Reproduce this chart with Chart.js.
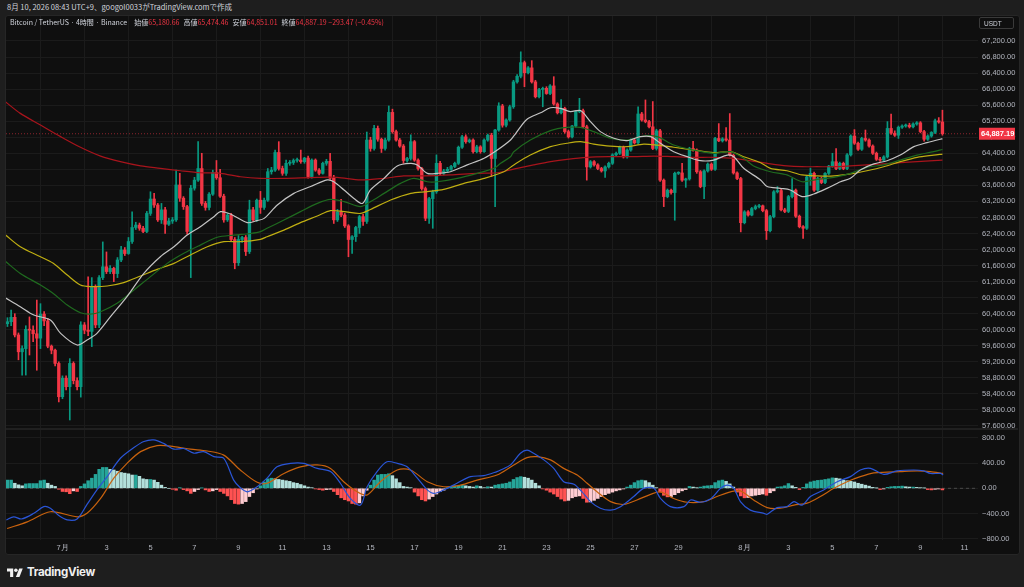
<!DOCTYPE html>
<html lang="ja">
<head>
<meta charset="utf-8">
<title>BTCUSDT 4h - Binance</title>
<script src="https://cdn.jsdelivr.net/npm/chart.js@4.4.1/dist/chart.umd.min.js"></script>
<style>
  html, body { margin: 0; padding: 0; width: 1024px; height: 587px; overflow: hidden; background: #1e1e1e;
    font-family: "Noto Sans CJK JP", "Noto Sans", sans-serif; }
  #header { position: absolute; left: 7px; top: 1px; font-size: 7.5px; color: #d1d4dc; white-space: nowrap; }
  #panel { position: absolute; left: 5px; top: 15px; width: 1013px; height: 538px; background: #0f0f0f;
    border: 1px solid #262626; border-radius: 3px; }
  #legend { position: absolute; left: 10px; top: 17px; font-size: 7px; color: #d1d4dc; white-space: nowrap; }
  #legend .k { color: #d1d4dc; margin-left: 4px; }
  #legend .v { color: #f23645; }
  #usdt { position: absolute; left: 979px; top: 17px; width: 35px; height: 12px; border: 1px solid #3a3a3a;
    border-radius: 2px; color: #d1d4dc; font: 6.5px "Liberation Sans", sans-serif; line-height: 12px; padding-left: 4px; box-sizing: border-box; }
  #sep { position: absolute; left: 6px; top: 428px; width: 1012px; height: 2px; background: #202020; }
  canvas { position: absolute; }
  #price { left: 6px; top: 16px; }
  #macd { left: 6px; top: 430px; }
  #logo { position: absolute; left: 7px; top: 565px; display: flex; align-items: center; color: #f0f0f0;
    font: bold 11.5px "Inter", "Liberation Sans", sans-serif; letter-spacing: -0.3px; }
  #logo svg { margin-right: 4px; }
</style>
</head>
<body>
<div id="header">8月 10, 2026 08:43 UTC+9、googol0033がTradingView.comで作成</div>
<div id="panel"></div>
<canvas id="price" width="1012" height="412"></canvas>
<canvas id="macd" width="1012" height="123"></canvas>
<div id="sep"></div>
<div id="legend">Bitcoin / TetherUS · 4時間 · Binance &nbsp;<span class="k">始値</span><span class="v">65,180.66</span><span class="k">高値</span><span class="v">65,474.46</span><span class="k">安値</span><span class="v">64,851.01</span><span class="k">終値</span><span class="v">64,887.19</span><span class="v">&nbsp;−293.47 (−0.45%)</span></div>
<div id="usdt">USDT</div>
<div id="logo"><svg width="16" height="11" viewBox="0 0 36 24"><path d="M14 22H7V10H0V3h14v19z" fill="#f0f0f0"/><circle cx="20" cy="7" r="4" fill="#f0f0f0"/><path d="M28 22h-8l7.5-19h8z" fill="#f0f0f0"/></svg>TradingView</div>
<script>
// 4h candles, index 0 = Jul 1 first candle; first row starts at index -15
const START = -15;

const opens = [
  60150, 60200, 60310, 59870, 59450, 59530, 60010, 59990, 59900, 59790, 60390, 60220, 59590, 59490, 59160,
  58330, 58790, 58580, 59160, 58730, 58580, 60120, 59990, 59960, 61070, 60120, 61300,
  61570, 61450, 61530, 61400, 61740, 61990, 61900, 62200, 62550, 62610, 62530, 62450,
  62900, 63260, 63110, 62740, 62990, 62630, 62710, 62740, 63610, 63280, 63070, 62450,
  63530, 63730, 64020, 63150, 63050, 63380, 63920, 63790, 63330, 62740, 62860, 62250,
  61670, 62250, 62300, 61950, 62990, 62740, 63230, 63050, 63230, 63940, 63980, 64420,
  64020, 63900, 64150, 64170, 64220, 64230, 64190, 64280, 63820, 64230, 63980, 63900,
  64150, 64200, 63780, 62740, 62940, 62860, 62590, 62250, 62320, 62550, 62820, 62700,
  64730, 64520, 65020, 64750, 64520, 64730, 65420, 64940, 64730, 64580, 64220, 64270,
  64690, 64230, 64020, 63520, 62780, 63270, 63440, 64150, 63900, 63960, 64000, 64070,
  64150, 64550, 64810, 64690, 64730, 64440, 64560, 64440, 64730, 64850, 64270, 64980,
  65580, 65100, 65230, 65560, 66180, 66320, 66660, 66410, 66530, 66180, 65810, 65990,
  66020, 65890, 66080, 65630, 65410, 65520, 64940, 64810, 65080, 65440, 65460, 65060,
  64060, 64190, 64110, 64020, 63960, 64060, 64150, 64360, 64400, 64550, 64310, 64480,
  64730, 64660, 65380, 65230, 65190, 65060, 64520, 64960, 63730, 63320, 63480, 63420,
  63900, 63910, 63730, 63760, 64520, 64480, 63940, 63570, 63960, 64130, 64000, 64770,
  64710, 64760, 64730, 64350, 63910, 63770, 62670, 62940, 62860, 63020, 63070, 63090,
  62970, 62470, 62820, 63440, 63470, 62990, 62950, 63320, 63480, 62830, 62570, 62530,
  63810, 63900, 63480, 63770, 63670, 63900, 64080, 64190, 64020, 64150, 64020, 64360,
  64830, 64650, 64500, 64770, 64730, 64580, 64400, 64250, 64230, 64310, 65020, 64900,
  64850, 65050, 65080, 65100, 65060, 65130, 65160, 64940, 64750, 64830, 64920, 65210,
  65180.66
];
const highs = [
  60300, 60490, 60400, 59920, 59600, 60100, 60320, 60100, 60740, 60650, 60450, 60280, 59620, 59520, 59200,
  58850, 58850, 59280, 59200, 58800, 60200, 60180, 61320, 61300, 61120, 61350, 62190,
  61940, 61600, 61560, 61800, 62080, 62050, 62300, 62940, 62680, 62660, 62580, 62950,
  63440, 63400, 63150, 63150, 63050, 62780, 62800, 63980, 63900, 63320, 63100, 63600,
  63800, 64690, 64400, 63200, 63420, 63980, 64220, 64000, 63380, 62900, 62900, 62300,
  62350, 62330, 62350, 63230, 63050, 63260, 63450, 63280, 64020, 64050, 64480, 64690,
  64080, 64230, 64220, 64260, 64280, 64480, 64300, 64330, 64260, 64260, 64020, 64180,
  64250, 64400, 63850, 63000, 63250, 62900, 62620, 62350, 62580, 62850, 62880, 64930,
  64800, 65100, 65080, 64780, 64780, 65580, 65500, 64980, 64770, 64620, 64300, 64860,
  64720, 64260, 64050, 63560, 63300, 63480, 64360, 64200, 64000, 64050, 64100, 64180,
  64580, 64850, 64860, 64760, 64760, 64600, 64590, 64760, 64880, 64900, 65000, 65660,
  65620, 65260, 65600, 66220, 66360, 66930, 66700, 66560, 66710, 66220, 66020, 66050,
  66060, 66110, 66310, 65660, 65740, 65550, 64980, 65100, 65460, 65770, 65500, 65100,
  64220, 64220, 64140, 64050, 64090, 64180, 64390, 64430, 64580, 64580, 64510, 64760,
  64760, 65560, 65420, 65730, 65220, 65690, 65000, 65000, 63760, 63510, 63510, 63930,
  63940, 64150, 63780, 64550, 64700, 64510, 63970, 63990, 64160, 64160, 64800, 65140,
  64790, 65040, 65390, 64380, 63940, 63800, 62970, 62970, 63050, 63110, 63130, 63110,
  63000, 62850, 63470, 63570, 63500, 63030, 63350, 63770, 63510, 62860, 62600, 63840,
  64030, 63930, 63800, 63800, 63920, 64100, 64400, 64520, 64180, 64180, 64390, 64860,
  64990, 64680, 64800, 64980, 64760, 64610, 64430, 64300, 64340, 65190, 65380, 64960,
  65080, 65110, 65130, 65150, 65160, 65190, 65190, 64970, 64860, 64940, 65250, 65290,
  65474.46
];
const lows = [
  60080, 60100, 59820, 59250, 58870, 58870, 59370, 59700, 58990, 59530, 60100, 59550, 59400, 59100, 58200,
  58280, 58500, 57750, 58650, 58500, 58320, 59900, 59850, 59580, 60050, 60050, 61250,
  61400, 61400, 61200, 61300, 61700, 61850, 61880, 62150, 62500, 62480, 62420, 62420,
  62850, 63050, 62700, 62650, 62400, 62600, 62650, 62700, 63200, 63000, 62380, 61300,
  63480, 63700, 63100, 62980, 62990, 63350, 63750, 63300, 62680, 62700, 62200, 61520,
  61600, 62180, 61850, 61900, 62700, 62700, 62900, 63000, 63200, 63880, 63950, 63980,
  63850, 63850, 64100, 64120, 64180, 64150, 64150, 63780, 63780, 63950, 63860, 63880,
  64100, 63750, 62650, 62700, 62820, 62550, 61820, 61900, 62200, 62400, 62600, 62650,
  64450, 64480, 64700, 64420, 64480, 64700, 64900, 64700, 64550, 64150, 64180, 64230,
  64200, 63980, 63480, 62720, 62650, 62530, 63400, 63860, 63860, 63930, 63970, 64040,
  64120, 64520, 64650, 64660, 64400, 64410, 64400, 64420, 64700, 63820, 63070, 64950,
  65050, 65060, 65200, 65520, 66150, 66280, 66060, 66380, 66150, 65780, 65780, 65560,
  65870, 65860, 65600, 65380, 65380, 64900, 64780, 64780, 65050, 65410, 65040, 63730,
  64030, 64080, 63990, 63930, 63800, 64030, 64120, 64330, 64370, 64280, 64280, 64450,
  64630, 64630, 65200, 65160, 65030, 64490, 64480, 63700, 63070, 63290, 63380, 62730,
  63870, 63700, 63550, 63730, 64450, 63900, 63540, 63270, 63930, 63970, 63970, 64690,
  64680, 64700, 64330, 63880, 63740, 62440, 62640, 62830, 62840, 62990, 63040, 62940,
  62250, 62440, 62790, 63410, 62960, 62920, 62920, 63290, 62800, 62540, 62280, 62500,
  63600, 63450, 63450, 63640, 63640, 63870, 64050, 63990, 63990, 63990, 63990, 64330,
  64620, 64470, 64470, 64700, 64550, 64370, 64220, 64200, 64200, 64280, 64870, 64820,
  64770, 65020, 65050, 65030, 65030, 65100, 64910, 64700, 64720, 64800, 64890, 65150,
  64851.01
];
const closes = [
  60200, 60310, 59870, 59450, 59530, 60010, 59990, 59900, 59790, 60390, 60220, 59590, 59490, 59160, 58330,
  58790, 58580, 59160, 58730, 58580, 60120, 59990, 59960, 61070, 60120, 61300, 61570,
  61450, 61530, 61400, 61740, 61990, 61900, 62200, 62550, 62610, 62530, 62450, 62900,
  63260, 63110, 62740, 62990, 62630, 62710, 62740, 63610, 63280, 63070, 62450, 63530,
  63730, 64020, 63150, 63050, 63380, 63920, 63790, 63330, 62740, 62860, 62250, 61670,
  62250, 62300, 61950, 62990, 62740, 63230, 63050, 63230, 63940, 63980, 64420, 64020,
  63900, 64150, 64170, 64220, 64230, 64190, 64280, 63820, 64230, 63980, 63900, 64150,
  64200, 63780, 62740, 62940, 62860, 62590, 62250, 62320, 62550, 62820, 62700, 64730,
  64520, 65020, 64750, 64520, 64730, 65420, 64940, 64730, 64580, 64220, 64270, 64690,
  64230, 64020, 63520, 62780, 63270, 63440, 64150, 63900, 63960, 64000, 64070, 64150,
  64550, 64810, 64690, 64730, 64440, 64560, 64440, 64730, 64850, 64270, 64980, 65580,
  65100, 65230, 65560, 66180, 66320, 66660, 66410, 66530, 66180, 65810, 65990, 66020,
  65890, 66080, 65630, 65410, 65520, 64940, 64810, 65080, 65440, 65460, 65060, 64060,
  64190, 64110, 64020, 63960, 64060, 64150, 64360, 64400, 64550, 64310, 64480, 64730,
  64660, 65380, 65230, 65190, 65060, 64520, 64960, 63730, 63320, 63480, 63420, 63900,
  63910, 63730, 63760, 64520, 64480, 63940, 63570, 63960, 64130, 64000, 64770, 64710,
  64760, 64730, 64350, 63910, 63770, 62670, 62940, 62860, 63020, 63070, 63090, 62970,
  62470, 62820, 63440, 63470, 62990, 62950, 63320, 63480, 62830, 62570, 62530, 63810,
  63900, 63480, 63770, 63670, 63900, 64080, 64190, 64020, 64150, 64020, 64360, 64830,
  64650, 64500, 64770, 64730, 64580, 64400, 64250, 64230, 64310, 65020, 64900, 64850,
  65050, 65080, 65100, 65060, 65130, 65160, 64940, 64750, 64830, 64920, 65210, 65180,
  64887.19
];

// moving averages: [candle index, price]
const maWhite = [[-15.5,60790],[-11.5,60575],[-7.8,60367],[-3.3,60242],[-0.5,59910],[4,59620],[6.7,59745],[9.4,59910],[13.1,60325],[17.6,60825],[22.2,61405],[26.7,61820],[30.4,62070],[34,62360],[37.6,62570],[41.3,62820],[43.1,62945],[45.8,62885],[50.4,62670],[53,62720],[55,62777],[58.6,63110],[63.1,63400],[67.7,63570],[72.2,63735],[74,63690],[76.8,63485],[79.5,63275],[81.8,63150],[84,63485],[87.7,63775],[91.3,64085],[94.9,64150],[96.8,64110],[99.5,63900],[102.2,63900],[105.8,63940],[110.4,64110],[115,64275],[118.6,64480],[122.2,64730],[123.5,64880],[126.7,65250],[130.4,65410],[133.1,65535],[135.8,65520],[138.5,65440],[141.3,65465],[144,65190],[146.7,64940],[150.4,64775],[154,64715],[157.6,64815],[160.4,64815],[163.1,64650],[166.7,64440],[170.4,64315],[174,64215],[177.6,64230],[181.3,64355],[183.1,64315],[185.8,64025],[190.4,63735],[192.2,63570],[195.8,63525],[198.5,63485],[201.7,63320],[204.9,63385],[208.5,63525],[212.2,63690],[214.9,63775],[217.6,63985],[221.3,64135],[224.9,64215],[228.5,64355],[232.2,64565],[235.8,64665],[239.4,64750],[240,64760]];
const maGreen = [[-15.5,61700],[-11.5,61405],[-6,61115],[-2.5,60905],[1.3,60615],[4.9,60425],[7.6,60390],[10.4,60450],[14.9,60660],[19.5,60990],[24,61325],[28.6,61655],[33.1,61905],[37.6,62110],[42.2,62305],[46.7,62360],[51.3,62400],[54,62445],[55.8,62530],[60.4,62735],[64.9,62945],[69.5,63150],[73.1,63250],[76.8,63195],[81.3,63070],[84,63195],[87.7,63400],[92.2,63650],[95.8,63775],[99.5,63690],[102.2,63690],[107.7,63775],[113.1,63900],[117.7,64025],[119.5,64150],[122.2,64315],[123.1,64440],[127.6,64730],[133.1,64965],[137.6,65045],[141.3,65045],[144.9,64940],[149.4,64775],[154,64730],[158.5,64830],[162.2,64815],[166.7,64605],[172.2,64480],[177.6,64400],[182.2,64440],[185.8,64275],[188.5,64085],[193.1,63940],[197.6,63860],[201.7,63690],[205.8,63750],[210.4,63800],[214.9,63900],[219.4,64050],[224,64110],[228.5,64230],[233.1,64355],[237.6,64440],[240,64495]];
const maYellow = [[-15.5,62360],[-11.5,62070],[-6,61820],[-2.5,61655],[1.3,61365],[4.9,61115],[7.6,61075],[12.2,61090],[16.7,61175],[21.3,61340],[25.8,61505],[30.4,61655],[34.9,61865],[39.5,62070],[44,62195],[48.5,62195],[54,62255],[55.8,62320],[60.4,62485],[64.9,62670],[69.5,62835],[73.1,62970],[76.8,62945],[81.3,62900],[84,63000],[89.5,63235],[95,63400],[99.5,63445],[104,63500],[109.5,63650],[115,63775],[120.4,63940],[123.1,64110],[127.6,64355],[133.1,64565],[137.6,64650],[141.3,64690],[144.9,64630],[149.4,64580],[154,64565],[158.5,64630],[162.2,64605],[166.7,64550],[172.2,64480],[177.6,64415],[182.2,64440],[185.8,64315],[190.4,64165],[193.1,64025],[197.6,63965],[201.7,63860],[205.8,63835],[210.4,63835],[214.9,63885],[219.4,63965],[224,64065],[228.5,64190],[233.1,64300],[237.6,64355],[240,64380]];
const maRed = [[-15.5,65680],[-11.5,65395],[-6,65105],[-0.5,64815],[4.9,64550],[10.4,64330],[15.8,64190],[21.3,64085],[26.7,64025],[32.2,63965],[37.6,63915],[43.1,63900],[48.5,63815],[54,63775],[60.4,63775],[69.5,63800],[74.9,63800],[81.3,63735],[87.7,63775],[93.1,63835],[98.6,63835],[105.8,63860],[113.1,63900],[118.6,63915],[122.2,63985],[124,64025],[128.5,64110],[133.1,64190],[137.6,64250],[143.1,64300],[149.4,64315],[155.8,64315],[161.3,64330],[166.7,64315],[172.2,64300],[177.6,64300],[183.1,64275],[188.5,64200],[193.1,64135],[197.6,64085],[201.7,64065],[205.8,64065],[210.4,64065],[214.9,64085],[219.4,64110],[224,64135],[228.5,64165],[233.1,64190],[237.6,64215],[240,64230]];

// MACD pane
const macdHist = [
  130, 130, 80, 55, 40, 70, 75, 75, 75, 120, 130, 80, 50, 30, -15,
  -50, -55, -85, -40, -50, 30, 70, 120, 160, 220, 300, 330,
  330, 300, 290, 270, 250, 240, 230, 210, 210, 190, 150, 140,
  140, 130, 95, 50, 15, 0, -15, -30, 10, -20, -40, -80,
  -50, -20, 5, -25, -50, -40, -20, -50, -80, -120, -180, -240,
  -250, -240, -210, -130, -70, -10, 40, 100, 150, 160, 150, 140,
  130, 120, 110, 90, 80, 60, 40, 20, 10, -10, -20, -30,
  -20, -15, -50, -100, -150, -180, -200, -240, -250, -230, -120, -30,
  50, 130, 210, 220, 220, 230, 200, 150, 90, 30, 20, 10,
  -60, -120, -180, -200, -170, -130, -90, -50, -30, 10, 30, 40,
  40, 50, 40, 30, 20, 40, 30, 10, 25, 20, 50, 60,
  70, 80, 100, 140, 170, 185, 175, 160, 130, 80, 40, -10,
  -30, -60, -90, -130, -170, -200, -190, -150, -130, -120, -160, -220,
  -215, -190, -160, -130, -100, -80, -60, -40, -25, -10, 20, 50,
  90, 120, 130, 120, 90, 50, 10, -60, -110, -135, -130, -100,
  -70, -40, -20, 30, 20, 10, 20, 35, 40, 45, 90, 120,
  130, 110, 70, 20, -60, -120, -150, -145, -120, -110, -100, -90,
  -110, -70, -40, 20, 25, 40, 75, 40, 15, -20, 15, 70,
  100, 115, 125, 130, 140, 150, 165, 160, 150, 130, 120, 110,
  100, 80, 65, 50, 35, 15, 5, -20, -10, 15, 25, 30,
  30, 35, 25, 20, 20, 15, 10, 5, -20, -25, -15, -10,
  -25
];
const macdLine = [[-15.3,-500],[-13.3,-450],[-11.2,-485],[-7.8,-395],[-5.1,-290],[-3.3,-315],[-1,-430],[1.3,-500],[4,-485],[6.7,-255],[9.4,-25],[12.2,185],[15.8,475],[19.5,645],[22.2,740],[24.9,765],[27.6,710],[30.4,620],[33.1,630],[35.8,555],[38.5,580],[41.3,500],[44,475],[46.7,130],[48.5,10],[50.4,-55],[53.1,25],[55.8,160],[58.5,340],[62.2,395],[65.8,395],[69.5,315],[73.1,265],[75.8,80],[78.5,-160],[81.3,-265],[83.1,25],[85.8,265],[88.5,420],[91.3,395],[94,340],[96.8,160],[99.5,-25],[101.3,-80],[104,-25],[107.6,80],[111.3,185],[114.9,200],[118.5,265],[119.5,290],[122.2,370],[124.9,555],[126.7,605],[128.5,555],[131.3,450],[134,315],[136.7,105],[139.5,65],[141.7,-55],[144,-210],[146.7,-315],[149.5,-345],[152.2,-290],[155.8,-130],[158.5,0],[161.3,0],[163.1,-160],[165.8,-290],[169.5,-290],[171.3,-185],[174,-220],[176.7,-170],[179.5,0],[181.3,50],[183.1,0],[184.9,-210],[187.6,-345],[191.3,-395],[192.2,-410],[194.9,-305],[197.6,-290],[199.5,-210],[201.7,-265],[204,-130],[207.6,-25],[211.3,105],[214.9,185],[217.6,290],[220.4,315],[224,220],[227.6,275],[232.2,290],[234.9,275],[236.7,235],[239.5,235],[240.2,210]];
const signalLine = [[-15.1,-635],[-9.6,-530],[-3.3,-370],[4,-450],[6.7,-395],[10.4,-160],[14,160],[17.6,395],[21.3,580],[25.8,675],[30.4,660],[34.9,620],[39.5,590],[44,525],[48.5,290],[53.1,95],[55.8,80],[60.4,235],[64.9,340],[69.5,370],[73.1,315],[76.7,105],[80.4,-55],[83.1,-105],[86.7,105],[91.3,290],[94.9,290],[99.5,105],[104,25],[108.6,50],[113.1,130],[118.5,210],[123.1,370],[126.7,485],[129.5,500],[133.1,450],[136.7,315],[140.4,210],[143.1,80],[145.8,-55],[149.5,-210],[153.1,-255],[156.7,-185],[160.4,-95],[163.1,-55],[166.7,-160],[170.4,-220],[174.9,-210],[178.5,-130],[182.2,-55],[184.9,-40],[188.5,-185],[192.2,-305],[195.8,-315],[199.5,-265],[203.1,-235],[206.7,-130],[210.4,0],[214,105],[217.6,185],[221.3,245],[224.9,255],[228.5,265],[233.1,275],[236.7,265],[240.2,235]];

// axes
const priceTicks = [57600, 58000, 58400, 58800, 59200, 59600, 60000, 60400, 60800, 61200, 61600, 62000, 62400, 62800, 63200, 63600, 64000, 64400, 64800, 65200, 65600, 66000, 66400, 66800, 67200];
const macdTicks = [800, 400, 0, -400, -800];
const dayTickIdx = [0, 12, 24, 36, 48, 60, 72, 84, 96, 108, 120, 132, 144, 156, 168, 186, 198, 210, 222, 234, 246];
const dayTickLabels = ['7月', '3', '5', '7', '9', '11', '13', '15', '17', '19', '21', '23', '25', '27', '29', '8月', '3', '5', '7', '9', '11'];

const X_MIN = -15.4, X_MAX = 249.7;
const UP = '#089981', DOWN = '#f23645';
const GRID = '#1b1b1b';
const AXIS_TXT = '#b2b5be';
const AXIS_FONT = { size: 7.5, family: '"Liberation Sans", sans-serif' };
const LAST = closes[closes.length - 1];

const fmt = v => {
  const s = Math.abs(v).toLocaleString('en-US', { minimumFractionDigits: 2, maximumFractionDigits: 2 });
  return v < 0 ? '−' + s : s;
};
const pts = arr => arr.map(([x, y]) => ({ x, y }));

const candleX = closes.map((_, k) => START + k);
const candleColors = closes.map((c, k) => c >= opens[k] ? UP : DOWN);

// no label padding, so the plot fills the whole pane
const noPadX = h => s => { s.height = h; s.paddingLeft = 0; s.paddingRight = 0; };
const noPadY = s => { s.width = 40; s.paddingTop = 0; s.paddingBottom = 0; };

const lastPriceTag = {
  id: 'lastPriceTag',
  afterDraw(chart) {
    const y = chart.scales.y.getPixelForValue(LAST);
    const x0 = chart.chartArea.right + 1;
    const ctx = chart.ctx;
    ctx.save();
    ctx.fillStyle = DOWN;
    ctx.fillRect(x0, y - 6, 36, 12);
    ctx.fillStyle = '#ffffff';
    ctx.font = 'bold 7.5px "Liberation Sans", sans-serif';
    ctx.textBaseline = 'middle';
    ctx.fillText(fmt(LAST), x0 + 2, y + 0.5);
    ctx.restore();
  }
};

const lineDs = (data, color, order) => ({
  type: 'line', data: pts(data), borderColor: color, borderWidth: 1.2,
  pointRadius: 0, tension: 0.3, order
});

new Chart(document.getElementById('price'), {
  type: 'bar',
  data: {
    datasets: [
      { type: 'line', data: [{ x: X_MIN, y: LAST }, { x: X_MAX, y: LAST }],
        borderColor: 'rgba(242,54,69,0.55)', borderWidth: 1, borderDash: [1, 2], pointRadius: 0, order: 20 },
      { data: candleX.map((x, k) => ({ x, y: [lows[k], highs[k]] })),
        backgroundColor: candleColors, barThickness: 1, grouped: false, order: 11 },
      { data: candleX.map((x, k) => ({ x, y: [opens[k], closes[k]] })),
        backgroundColor: candleColors, barThickness: 2.7, minBarLength: 1, grouped: false, order: 10 },
      lineDs(maRed, '#a8141c', 4),
      lineDs(maYellow, '#bfae12', 3),
      lineDs(maGreen, '#1f6a1f', 2),
      lineDs(maWhite, '#c4c4c4', 1)
    ]
  },
  options: {
    responsive: false, animation: false, events: [],
    layout: { padding: 0 },
    plugins: { legend: { display: false }, tooltip: { enabled: false } },
    scales: {
      x: {
        type: 'linear', min: X_MIN, max: X_MAX, offset: false,
        afterBuildTicks: s => { s.ticks = dayTickIdx.map(v => ({ value: v })); },
        afterFit: noPadX(0),
        ticks: { display: false },
        grid: { color: GRID, drawTicks: false },
        border: { display: false }
      },
      y: {
        position: 'right', min: 57550, max: 67823,
        afterBuildTicks: s => { s.ticks = priceTicks.map(v => ({ value: v })); },
        afterFit: noPadY,
        ticks: { color: AXIS_TXT, font: AXIS_FONT, padding: 4, callback: v => fmt(v) },
        grid: { color: GRID, drawTicks: false },
        border: { display: false }
      }
    }
  },
  plugins: [lastPriceTag]
});

const histColors = macdHist.map((v, k) => {
  const prev = k ? macdHist[k - 1] : v;
  if (v >= 0) return v >= prev ? '#26a69a' : '#b2dfdb';
  return v > prev ? '#ffcdd2' : '#ff5252';
});

new Chart(document.getElementById('macd'), {
  type: 'bar',
  data: {
    datasets: [
      { type: 'line', data: [{ x: X_MIN, y: 0 }, { x: X_MAX, y: 0 }],
        borderColor: '#4a4a4a', borderWidth: 1, borderDash: [3, 3], pointRadius: 0, order: 20 },
      { data: candleX.map((x, k) => ({ x, y: macdHist[k] })),
        backgroundColor: histColors, barThickness: 2.8, grouped: false, order: 10 },
      { type: 'line', data: pts(signalLine), borderColor: '#c8620e', borderWidth: 1.2, pointRadius: 0, tension: 0.3, order: 2 },
      { type: 'line', data: pts(macdLine), borderColor: '#2a55d6', borderWidth: 1.2, pointRadius: 0, tension: 0.3, order: 1 }
    ]
  },
  options: {
    responsive: false, animation: false, events: [],
    layout: { padding: 0 },
    plugins: { legend: { display: false }, tooltip: { enabled: false } },
    scales: {
      x: {
        type: 'linear', min: X_MIN, max: X_MAX, offset: false,
        afterBuildTicks: s => { s.ticks = dayTickIdx.map(v => ({ value: v })); },
        afterFit: noPadX(13),
        ticks: { color: AXIS_TXT, font: AXIS_FONT, padding: 3, maxRotation: 0, autoSkip: false,
          callback: v => dayTickLabels[dayTickIdx.indexOf(v)] },
        grid: { color: GRID, drawTicks: false },
        border: { display: false }
      },
      y: {
        position: 'right', min: -817, max: 922,
        afterBuildTicks: s => { s.ticks = macdTicks.map(v => ({ value: v })); },
        afterFit: noPadY,
        ticks: { color: AXIS_TXT, font: AXIS_FONT, padding: 4, callback: v => fmt(v) },
        grid: { color: GRID, drawTicks: false },
        border: { display: false }
      }
    }
  }
});
</script>
</body>
</html>
